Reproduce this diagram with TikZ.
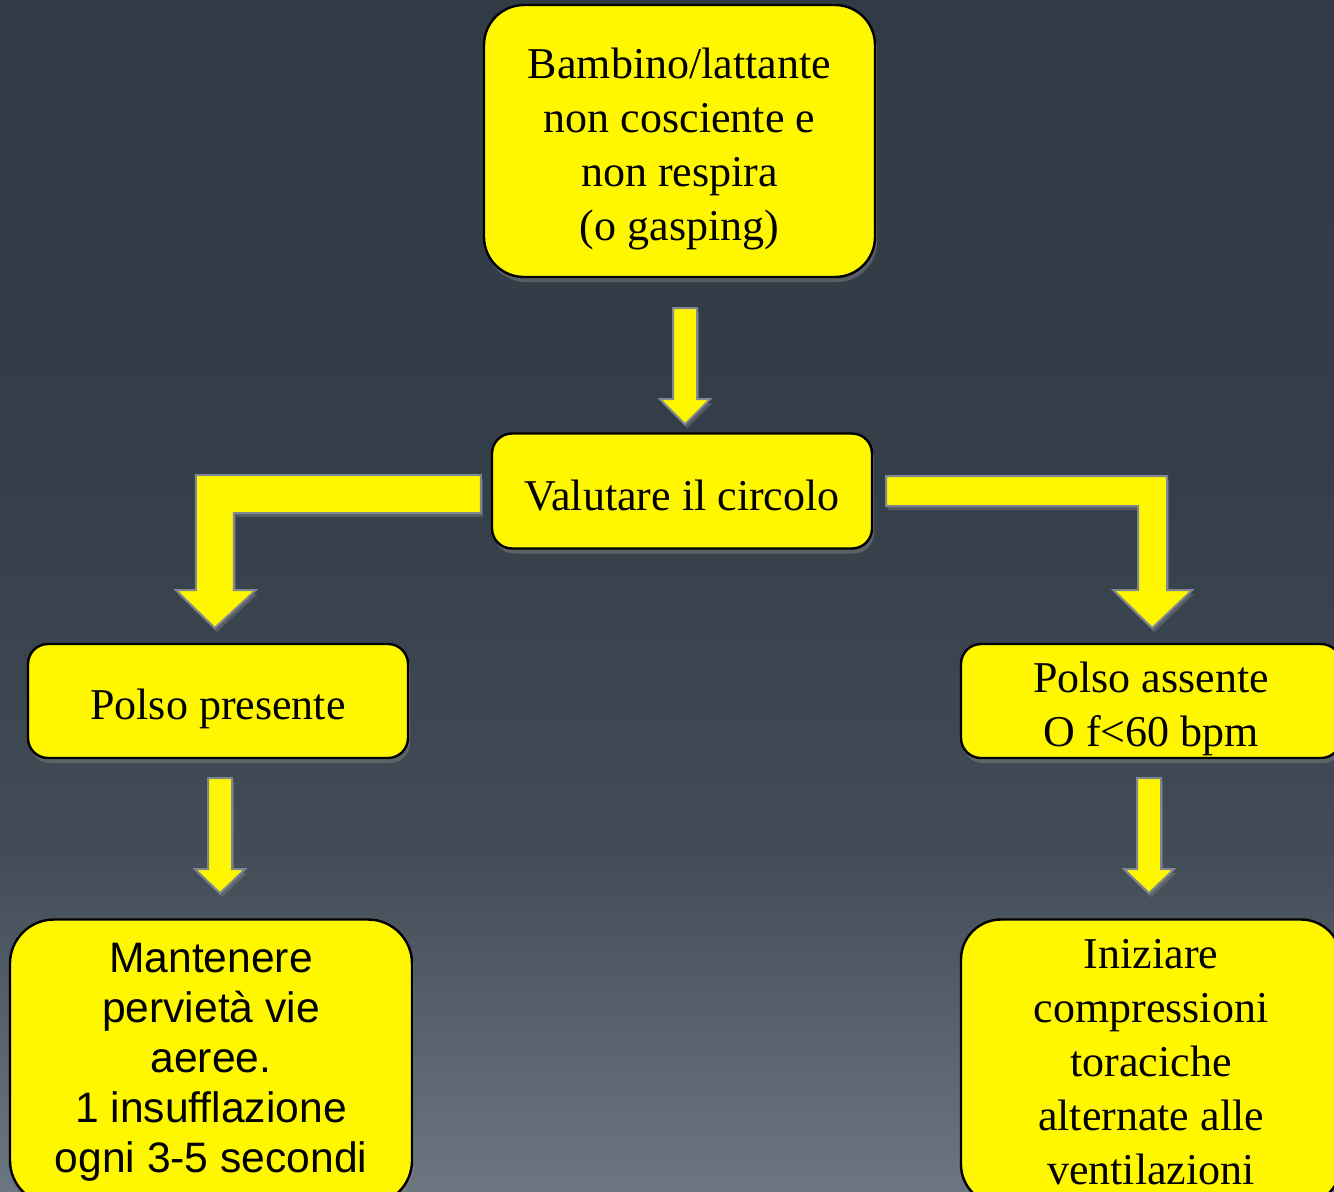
\documentclass[tikz,border=0pt]{standalone}
\usepackage{fontspec}
\setmainfont{Liberation Serif}
\newfontfamily\arialfont{Liberation Sans}
\usetikzlibrary{calc,shadows}

\definecolor{boxyellow}{RGB}{255,247,0}
\definecolor{arrowgray}{RGB}{128,135,144}
\definecolor{bgtop}{RGB}{49,59,69}
\definecolor{bgmid}{RGB}{52,62,72}
\definecolor{bglow}{RGB}{66,76,86}
\definecolor{bgdeep}{RGB}{90,101,111}
\definecolor{bgbot}{RGB}{108,118,128}
\pgfdeclareverticalshading{slidebg}{100bp}{color(0bp)=(bgbot); color(25bp)=(bgbot); color(30.9bp)=(bgdeep); color(39.3bp)=(bglow); color(56.1bp)=(bgmid); color(75bp)=(bgtop); color(100bp)=(bgtop)}

\tikzset{
  box/.style={draw=black, line width=1.2pt, fill=boxyellow, rounded corners=10pt,
    align=center, inner sep=0pt, font=\fontsize{22}{27}\selectfont,
    drop shadow={shadow xshift=1pt, shadow yshift=-2.5pt, opacity=0.5}},
  sansbox/.style={font=\arialfont\fontsize{21.3}{25}\selectfont},
  lowtext/.style={execute at begin node={\rule{0pt}{#1}}},
  yarrow/.style={fill=boxyellow, draw=arrowgray, line width=1pt,
    drop shadow={shadow xshift=1pt, shadow yshift=-2pt, opacity=0.45}}
}

\begin{document}
\begin{tikzpicture}[x=0.5pt,y=-0.5pt]
  % background
  \fill[shading=slidebg] (0,0) rectangle (1334,1191);
  \useasboundingbox (0,0) rectangle (1334,1191);

  % boxes
  \node[box, minimum width=195.5pt, minimum height=136pt, rounded corners=20pt] (start) at (679.5,141)
    {\rule{0pt}{23pt}Bambino/lattante\\non cosciente e\\non respira\\(o gasping)};
  \node[box, lowtext=20pt, minimum width=190pt, minimum height=57.5pt] (circ) at (682,491) {Valutare il circolo};
  \node[box, lowtext=23pt, minimum width=190pt, minimum height=57pt] (pres) at (218,701) {Polso presente};
  \node[box, minimum width=190pt, minimum height=57pt] (ass) at (1151,701) {\rule{0pt}{23pt}Polso assente\\O f<60 bpm};
  \node[box, sansbox, minimum width=201pt, minimum height=142.5pt, rounded corners=22pt] (vie) at (211,1062)
    {Mantenere\\pervietà vie\\aeree.\\1 insufflazione\\ogni 3-5 secondi};
  \node[box, minimum width=190pt, minimum height=142.5pt, rounded corners=20pt] (comp) at (1151,1062)
    {Iniziare\\compressioni\\toraciche\\alternate alle\\ventilazioni};

  % arrows
  \draw[yarrow] ($(start.south)+(-6.5,30)$) -- ++(24,0) -- ++(0,91) -- ++(13,0)
    -- ++(-25,25) -- ++(-25,-25) -- ++(13,0) -- cycle;
  \draw[yarrow] ($(circ.west)+(-10,-16)$) -- ++(-285,0) -- ++(0,115) -- ++(-20,0)
    -- ++(39,38) -- ++(41,-38) -- ++(-22,0) -- ++(0,-77) -- ++(247,0) -- cycle;
  \draw[yarrow] ($(circ.east)+(13,-15)$) -- ++(281,0) -- ++(0,114) -- ++(25,0)
    -- ++(-40,38) -- ++(-39,-38) -- ++(25,0) -- ++(0,-84) -- ++(-252,0) -- cycle;
  \draw[yarrow] ($(pres.south)+(-10,19)$) -- ++(24,0) -- ++(0,91) -- ++(13,0)
    -- ++(-25,24) -- ++(-25,-24) -- ++(13,0) -- cycle;
  \draw[yarrow] ($(ass.south)+(-14,19)$) -- ++(24,0) -- ++(0,91) -- ++(13,0)
    -- ++(-25,24) -- ++(-25,-24) -- ++(13,0) -- cycle;
\end{tikzpicture}
\end{document}
